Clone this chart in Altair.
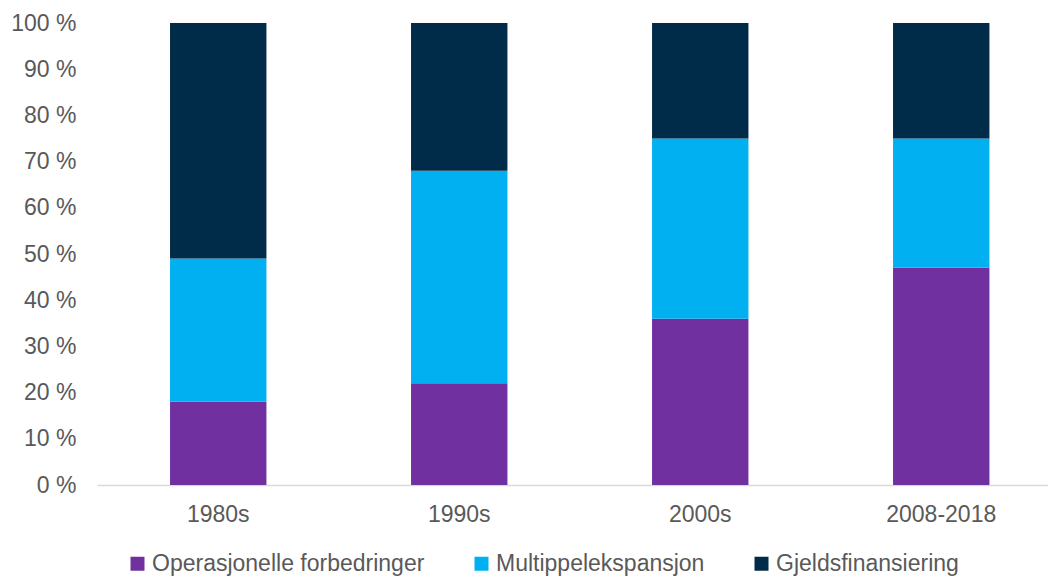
import altair as alt
import pandas as pd

periods = ["1980s", "1990s", "2000s", "2008-2018"]
series = ["Operasjonelle forbedringer", "Multippelekspansjon", "Gjeldsfinansiering"]
operasjonelle = [18, 22, 36, 47]
multippel = [31, 46, 39, 28]
gjeld = [51, 32, 25, 25]
colors = ["#7030A0", "#00B0F0", "#002B49"]

rows = []
for i, p in enumerate(periods):
    for j, (s, vals) in enumerate(zip(series, [operasjonelle, multippel, gjeld])):
        rows.append({"periode": p, "serie": s, "verdi": vals[i], "idx": j})
df = pd.DataFrame(rows)

font = "Liberation Sans"
gray = "#595959"
fs = 23

chart = alt.Chart(df).mark_bar().encode(
    x=alt.X("periode:N", sort=periods, title=None,
            scale=alt.Scale(paddingInner=0.6, paddingOuter=0.273, align=0.555),
            axis=alt.Axis(labelAngle=0, labelFont=font, labelFontSize=fs, labelColor=gray,
                          ticks=False, domainColor="#d9d9d9", domainWidth=1.5,
                          labelPadding=18)),
    y=alt.Y("verdi:Q", stack="zero", title=None,
            scale=alt.Scale(domain=[0, 100], nice=False),
            axis=alt.Axis(values=list(range(0, 101, 10)), labelExpr="datum.value + ' %'",
                          labelFont=font, labelFontSize=fs, labelColor=gray,
                          ticks=False, domain=False, grid=False, labelPadding=21)),
    color=alt.Color("serie:N", sort=series,
                    scale=alt.Scale(domain=series, range=colors),
                    legend=alt.Legend(title=None, orient="none", direction="horizontal",
                                      legendX=29, legendY=529,
                                      symbolType="square", symbolSize=196,
                                      symbolStrokeWidth=0, labelLimit=500,
                                      labelFont=font, labelFontSize=fs, labelColor=gray,
                                      labelOffset=3, columnPadding=45)),
    order=alt.Order("idx:Q", sort="ascending"),
).properties(
    width=951, height=462,
    padding={"left": 97, "top": 23, "right": 0, "bottom": 91},
    autosize=alt.AutoSizeParams(type="none"),
    background="white",
).configure_view(stroke=None)

chart.save("out.html", embed_options={"renderer": "svg", "actions": False})
